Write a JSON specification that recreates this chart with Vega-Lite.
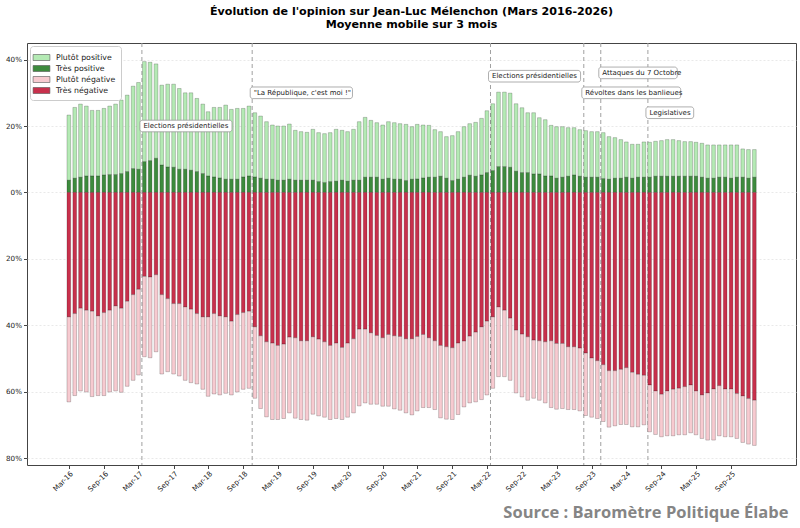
{
  "$schema": "https://vega.github.io/schema/vega-lite/v6.json",
  "width": 769,
  "height": 422,
  "autosize": {"type": "none"},
  "padding": {"left": 27, "top": 43, "right": 4, "bottom": 63},
  "background": "white",
  "config": {
    "font": "DejaVu Sans",
    "view": {"stroke": "#444", "strokeWidth": 1}
  },
  "title": {
    "text": ["Évolution de l'opinion sur Jean-Luc Mélenchon (Mars 2016-2026)", "Moyenne mobile sur 3 mois"],
    "fontSize": 11.1,
    "fontWeight": "bold",
    "color": "black",
    "anchor": "middle",
    "lineHeight": 13,
    "offset": 12
  },
  "datasets": {
    "op": [
      {"m":"2016-03-01","tp":3.7,"pp":19.6,"tn":37.5,"pn":25.6},
      {"m":"2016-04-01","tp":4.3,"pp":21.3,"tn":36.5,"pn":24.7},
      {"m":"2016-05-01","tp":4.6,"pp":22.0,"tn":34.9,"pn":24.9},
      {"m":"2016-06-01","tp":5.0,"pp":21.0,"tn":35.5,"pn":24.6},
      {"m":"2016-07-01","tp":5.0,"pp":19.7,"tn":35.8,"pn":25.7},
      {"m":"2016-08-01","tp":5.0,"pp":19.7,"tn":37.2,"pn":24.0},
      {"m":"2016-09-01","tp":5.3,"pp":20.0,"tn":36.2,"pn":25.0},
      {"m":"2016-10-01","tp":5.4,"pp":20.6,"tn":35.5,"pn":24.6},
      {"m":"2016-11-01","tp":5.4,"pp":21.2,"tn":34.2,"pn":25.6},
      {"m":"2016-12-01","tp":5.7,"pp":22.1,"tn":34.9,"pn":25.3},
      {"m":"2017-01-01","tp":6.3,"pp":23.0,"tn":32.8,"pn":25.6},
      {"m":"2017-02-01","tp":7.2,"pp":24.8,"tn":30.8,"pn":25.8},
      {"m":"2017-03-01","tp":7.0,"pp":26.1,"tn":29.2,"pn":25.8},
      {"m":"2017-04-01","tp":9.3,"pp":30.1,"tn":25.3,"pn":24.2},
      {"m":"2017-05-01","tp":9.6,"pp":29.6,"tn":25.5,"pn":24.3},
      {"m":"2017-06-01","tp":10.3,"pp":28.4,"tn":24.8,"pn":23.2},
      {"m":"2017-07-01","tp":8.3,"pp":24.0,"tn":30.8,"pn":23.9},
      {"m":"2017-08-01","tp":7.7,"pp":24.9,"tn":32.0,"pn":22.0},
      {"m":"2017-09-01","tp":7.6,"pp":25.0,"tn":33.5,"pn":21.2},
      {"m":"2017-10-01","tp":7.0,"pp":24.3,"tn":33.5,"pn":21.8},
      {"m":"2017-11-01","tp":7.0,"pp":23.0,"tn":34.5,"pn":22.1},
      {"m":"2017-12-01","tp":6.7,"pp":23.3,"tn":35.2,"pn":22.1},
      {"m":"2018-01-01","tp":6.3,"pp":22.0,"tn":36.5,"pn":21.2},
      {"m":"2018-02-01","tp":5.7,"pp":20.9,"tn":37.5,"pn":21.8},
      {"m":"2018-03-01","tp":5.0,"pp":19.3,"tn":37.5,"pn":23.9},
      {"m":"2018-04-01","tp":4.7,"pp":20.9,"tn":36.5,"pn":24.2},
      {"m":"2018-05-01","tp":4.4,"pp":21.2,"tn":37.2,"pn":23.8},
      {"m":"2018-06-01","tp":4.0,"pp":22.3,"tn":37.5,"pn":23.0},
      {"m":"2018-07-01","tp":4.0,"pp":21.0,"tn":38.8,"pn":22.2},
      {"m":"2018-08-01","tp":4.0,"pp":21.3,"tn":36.8,"pn":23.3},
      {"m":"2018-09-01","tp":4.7,"pp":20.6,"tn":36.2,"pn":23.1},
      {"m":"2018-10-01","tp":5.0,"pp":21.0,"tn":35.8,"pn":23.2},
      {"m":"2018-11-01","tp":4.7,"pp":19.3,"tn":40.5,"pn":21.5},
      {"m":"2018-12-01","tp":4.3,"pp":18.7,"tn":43.2,"pn":21.9},
      {"m":"2019-01-01","tp":4.0,"pp":17.3,"tn":45.0,"pn":22.6},
      {"m":"2019-02-01","tp":4.0,"pp":16.3,"tn":45.4,"pn":23.0},
      {"m":"2019-03-01","tp":3.7,"pp":16.3,"tn":46.1,"pn":22.3},
      {"m":"2019-04-01","tp":3.7,"pp":16.3,"tn":45.7,"pn":22.4},
      {"m":"2019-05-01","tp":4.0,"pp":16.6,"tn":43.6,"pn":22.8},
      {"m":"2019-06-01","tp":3.7,"pp":15.0,"tn":43.8,"pn":24.2},
      {"m":"2019-07-01","tp":3.7,"pp":14.6,"tn":44.7,"pn":23.7},
      {"m":"2019-08-01","tp":3.7,"pp":14.4,"tn":44.7,"pn":23.9},
      {"m":"2019-09-01","tp":3.7,"pp":15.3,"tn":43.5,"pn":23.3},
      {"m":"2019-10-01","tp":3.3,"pp":14.7,"tn":44.2,"pn":23.1},
      {"m":"2019-11-01","tp":3.0,"pp":14.7,"tn":45.0,"pn":22.7},
      {"m":"2019-12-01","tp":3.3,"pp":14.7,"tn":46.1,"pn":22.3},
      {"m":"2020-01-01","tp":3.4,"pp":15.6,"tn":45.4,"pn":22.7},
      {"m":"2020-02-01","tp":3.7,"pp":15.0,"tn":46.7,"pn":21.7},
      {"m":"2020-03-01","tp":3.4,"pp":14.9,"tn":45.4,"pn":22.3},
      {"m":"2020-04-01","tp":3.7,"pp":15.3,"tn":44.1,"pn":22.3},
      {"m":"2020-05-01","tp":3.7,"pp":17.6,"tn":41.2,"pn":23.1},
      {"m":"2020-06-01","tp":4.6,"pp":18.0,"tn":41.2,"pn":22.2},
      {"m":"2020-07-01","tp":4.6,"pp":17.1,"tn":42.3,"pn":21.5},
      {"m":"2020-08-01","tp":4.6,"pp":16.4,"tn":43.1,"pn":20.7},
      {"m":"2020-09-01","tp":4.0,"pp":16.3,"tn":43.8,"pn":20.6},
      {"m":"2020-10-01","tp":4.3,"pp":17.0,"tn":42.8,"pn":21.6},
      {"m":"2020-11-01","tp":4.0,"pp":17.0,"tn":43.2,"pn":22.0},
      {"m":"2020-12-01","tp":4.0,"pp":16.7,"tn":43.4,"pn":22.2},
      {"m":"2021-01-01","tp":3.6,"pp":16.9,"tn":44.1,"pn":22.3},
      {"m":"2021-02-01","tp":4.0,"pp":15.8,"tn":44.1,"pn":22.9},
      {"m":"2021-03-01","tp":4.1,"pp":16.4,"tn":43.4,"pn":22.4},
      {"m":"2021-04-01","tp":4.4,"pp":15.9,"tn":42.8,"pn":22.0},
      {"m":"2021-05-01","tp":4.6,"pp":15.6,"tn":43.8,"pn":21.0},
      {"m":"2021-06-01","tp":4.6,"pp":14.3,"tn":44.7,"pn":20.7},
      {"m":"2021-07-01","tp":4.9,"pp":13.4,"tn":46.1,"pn":21.8},
      {"m":"2021-08-01","tp":4.3,"pp":12.5,"tn":46.5,"pn":21.8},
      {"m":"2021-09-01","tp":3.6,"pp":13.5,"tn":46.8,"pn":21.6},
      {"m":"2021-10-01","tp":4.0,"pp":14.3,"tn":45.4,"pn":21.5},
      {"m":"2021-11-01","tp":4.6,"pp":15.2,"tn":44.8,"pn":19.8},
      {"m":"2021-12-01","tp":5.2,"pp":15.5,"tn":43.3,"pn":20.1},
      {"m":"2022-01-01","tp":4.9,"pp":16.2,"tn":42.1,"pn":21.0},
      {"m":"2022-02-01","tp":5.3,"pp":17.0,"tn":40.5,"pn":21.9},
      {"m":"2022-03-01","tp":6.0,"pp":18.6,"tn":38.8,"pn":22.2},
      {"m":"2022-04-01","tp":6.6,"pp":20.1,"tn":37.5,"pn":21.5},
      {"m":"2022-05-01","tp":7.8,"pp":22.4,"tn":34.5,"pn":21.0},
      {"m":"2022-06-01","tp":7.8,"pp":22.4,"tn":35.5,"pn":20.0},
      {"m":"2022-07-01","tp":7.6,"pp":22.3,"tn":37.9,"pn":18.7},
      {"m":"2022-08-01","tp":6.4,"pp":20.3,"tn":41.5,"pn":18.9},
      {"m":"2022-09-01","tp":6.0,"pp":19.5,"tn":42.7,"pn":18.9},
      {"m":"2022-10-01","tp":6.0,"pp":18.0,"tn":43.5,"pn":19.1},
      {"m":"2022-11-01","tp":5.6,"pp":18.4,"tn":44.5,"pn":17.5},
      {"m":"2022-12-01","tp":5.6,"pp":16.9,"tn":44.7,"pn":17.9},
      {"m":"2023-01-01","tp":5.0,"pp":16.9,"tn":45.0,"pn":18.4},
      {"m":"2023-02-01","tp":5.0,"pp":15.2,"tn":44.7,"pn":20.1},
      {"m":"2023-03-01","tp":4.3,"pp":15.5,"tn":45.5,"pn":19.8},
      {"m":"2023-04-01","tp":4.6,"pp":15.2,"tn":45.5,"pn":19.6},
      {"m":"2023-05-01","tp":4.9,"pp":14.6,"tn":46.5,"pn":18.9},
      {"m":"2023-06-01","tp":5.3,"pp":14.2,"tn":46.5,"pn":18.9},
      {"m":"2023-07-01","tp":4.9,"pp":14.0,"tn":46.9,"pn":18.9},
      {"m":"2023-08-01","tp":4.6,"pp":14.0,"tn":48.4,"pn":18.8},
      {"m":"2023-09-01","tp":4.6,"pp":13.7,"tn":49.9,"pn":17.8},
      {"m":"2023-10-01","tp":4.6,"pp":13.7,"tn":50.7,"pn":17.4},
      {"m":"2023-11-01","tp":4.2,"pp":13.8,"tn":51.9,"pn":17.1},
      {"m":"2023-12-01","tp":4.0,"pp":12.8,"tn":53.7,"pn":17.0},
      {"m":"2024-01-01","tp":4.3,"pp":12.2,"tn":53.7,"pn":16.6},
      {"m":"2024-02-01","tp":4.3,"pp":11.6,"tn":53.3,"pn":16.6},
      {"m":"2024-03-01","tp":4.6,"pp":10.6,"tn":52.8,"pn":17.1},
      {"m":"2024-04-01","tp":4.3,"pp":10.2,"tn":54.2,"pn":16.4},
      {"m":"2024-05-01","tp":4.6,"pp":9.9,"tn":54.8,"pn":15.8},
      {"m":"2024-06-01","tp":4.6,"pp":10.6,"tn":55.1,"pn":14.9},
      {"m":"2024-07-01","tp":4.6,"pp":10.5,"tn":58.0,"pn":14.1},
      {"m":"2024-08-01","tp":4.9,"pp":10.5,"tn":59.8,"pn":13.1},
      {"m":"2024-09-01","tp":4.9,"pp":10.7,"tn":60.8,"pn":12.8},
      {"m":"2024-10-01","tp":4.9,"pp":11.0,"tn":59.8,"pn":13.5},
      {"m":"2024-11-01","tp":4.9,"pp":11.0,"tn":59.3,"pn":14.0},
      {"m":"2024-12-01","tp":4.9,"pp":10.7,"tn":59.0,"pn":14.0},
      {"m":"2025-01-01","tp":4.9,"pp":10.4,"tn":58.5,"pn":14.5},
      {"m":"2025-02-01","tp":4.9,"pp":10.4,"tn":58.0,"pn":14.4},
      {"m":"2025-03-01","tp":4.9,"pp":10.2,"tn":59.8,"pn":13.2},
      {"m":"2025-04-01","tp":4.6,"pp":10.2,"tn":61.0,"pn":13.1},
      {"m":"2025-05-01","tp":4.3,"pp":10.0,"tn":60.4,"pn":14.2},
      {"m":"2025-06-01","tp":4.3,"pp":10.0,"tn":59.2,"pn":15.4},
      {"m":"2025-07-01","tp":4.6,"pp":9.7,"tn":58.2,"pn":15.1},
      {"m":"2025-08-01","tp":4.6,"pp":9.7,"tn":59.2,"pn":14.4},
      {"m":"2025-09-01","tp":4.3,"pp":10.0,"tn":59.2,"pn":14.4},
      {"m":"2025-10-01","tp":4.6,"pp":9.7,"tn":60.6,"pn":13.5},
      {"m":"2025-11-01","tp":4.6,"pp":8.5,"tn":61.3,"pn":14.0},
      {"m":"2025-12-01","tp":4.3,"pp":8.6,"tn":62.1,"pn":13.7},
      {"m":"2026-01-01","tp":4.6,"pp":8.3,"tn":62.6,"pn":13.6}
    ],
    "ev": [
      {"d":"2017-03-19","label":"Elections présidentielles","ly":20},
      {"d":"2018-10-18","label":"\"La République, c'est moi !\"","ly":30},
      {"d":"2022-03-20","label":"Elections présidentielles","ly":35},
      {"d":"2023-07-22","label":"Révoltes dans les banlieues","ly":30},
      {"d":"2023-10-19","label":"Attaques du 7 Octobre","ly":36},
      {"d":"2024-06-22","label":"Legislatives","ly":24}
    ]
  },
  "layer": [
    {
      "data": {"name": "ev"},
      "mark": {"type": "rule", "color": "#a0a0a0", "strokeWidth": 1, "strokeDash": [4, 3]},
      "encoding": {
        "x": {"field": "d", "type": "temporal"}
      }
    },
    {
      "data": {"name": "op"},
      "transform": [
        {"fold": ["tp", "pp", "tn", "pn"], "as": ["k", "v"]},
        {"calculate": "datum.k == 'tn' || datum.k == 'pn' ? -datum.v : datum.v", "as": "sv"},
        {"calculate": "datum.k == 'tp' || datum.k == 'tn' ? 0 : 1", "as": "ord"}
      ],
      "mark": {"type": "bar", "width": 3.7, "stroke": "#000", "strokeWidth": 0.5, "strokeOpacity": 0.4},
      "encoding": {
        "x": {
          "field": "m",
          "type": "temporal",
          "scale": {
            "type": "utc",
            "domain": [
              {"year": 2015, "month": 8, "date": 21, "utc": true},
              {"year": 2026, "month": 7, "date": 12, "utc": true}
            ]
          },
          "axis": {
            "title": "Source : Baromètre Politique Élabe",
            "titleFont": "Open Sans",
            "titleFontSize": 16.5,
            "titleFontWeight": "bold",
            "titleColor": "#858585",
            "titleAlign": "right",
            "titleBaseline": "middle",
            "titleX": 761,
            "titleY": 47,
            "values": [
              {"year": 2016, "month": 3, "date": 1, "utc": true},
              {"year": 2016, "month": 9, "date": 1, "utc": true},
              {"year": 2017, "month": 3, "date": 1, "utc": true},
              {"year": 2017, "month": 9, "date": 1, "utc": true},
              {"year": 2018, "month": 3, "date": 1, "utc": true},
              {"year": 2018, "month": 9, "date": 1, "utc": true},
              {"year": 2019, "month": 3, "date": 1, "utc": true},
              {"year": 2019, "month": 9, "date": 1, "utc": true},
              {"year": 2020, "month": 3, "date": 1, "utc": true},
              {"year": 2020, "month": 9, "date": 1, "utc": true},
              {"year": 2021, "month": 3, "date": 1, "utc": true},
              {"year": 2021, "month": 9, "date": 1, "utc": true},
              {"year": 2022, "month": 3, "date": 1, "utc": true},
              {"year": 2022, "month": 9, "date": 1, "utc": true},
              {"year": 2023, "month": 3, "date": 1, "utc": true},
              {"year": 2023, "month": 9, "date": 1, "utc": true},
              {"year": 2024, "month": 3, "date": 1, "utc": true},
              {"year": 2024, "month": 9, "date": 1, "utc": true},
              {"year": 2025, "month": 3, "date": 1, "utc": true},
              {"year": 2025, "month": 9, "date": 1, "utc": true}
            ],
            "format": "%b-%y",
            "labelAngle": -45,
            "labelAlign": "right",
            "labelBaseline": "top",
            "labelFontSize": 7.2,
            "labelColor": "#222",
            "labelPadding": 1,
            "labelOverlap": false,
            "labelFlush": false,
            "tickSize": 3.5,
            "tickColor": "#444",
            "domain": false,
            "grid": false
          }
        },
        "y": {
          "field": "sv",
          "type": "quantitative",
          "stack": "zero",
          "scale": {"domain": [-82.1, 45], "nice": false, "zero": false},
          "axis": {
            "title": null,
            "values": [-80, -60, -40, -20, 0, 20, 40],
            "labelExpr": "abs(datum.value) + '%'",
            "labelFontSize": 7.2,
            "labelColor": "#222",
            "labelPadding": 2,
            "tickSize": 3.5,
            "tickColor": "#444",
            "domain": false,
            "grid": true,
            "gridColor": "#e3e3e3",
            "gridDash": [2, 2],
            "gridWidth": 0.8
          }
        },
        "order": {"field": "ord", "type": "quantitative"},
        "color": {
          "field": "k",
          "type": "nominal",
          "scale": {
            "domain": ["pp", "tp", "pn", "tn"],
            "range": ["#b4eab4", "#3d8b3d", "#f7cad0", "#c8304c"]
          },
          "legend": {
            "title": null,
            "orient": "top-left",
            "offset": 3,
            "padding": 5,
            "fillColor": "white",
            "strokeColor": "#cccccc",
            "cornerRadius": 3,
            "symbolType": "M-1.4,-0.5L1.4,-0.5L1.4,0.5L-1.4,0.5Z",
            "symbolSize": 144,
            "symbolStrokeColor": "#555",
            "symbolStrokeWidth": 0.6,
            "symbolOpacity": 1,
            "labelFontSize": 7.8,
            "labelColor": "#222",
            "labelOffset": 8,
            "rowPadding": 0,
            "labelExpr": "datum.label == 'pp' ? 'Plutôt positive' : datum.label == 'tp' ? 'Très positive' : datum.label == 'pn' ? 'Plutôt négative' : 'Très négative'"
          }
        }
      }
    },
    {
      "mark": {"type": "rule", "color": "black", "strokeWidth": 1.3},
      "encoding": {"y": {"datum": 0}}
    },
    {
      "data": {"name": "ev"},
      "transform": [
        {"calculate": "+toDate(datum.d) - 2 * 4.47e8", "as": "bx1"},
        {"calculate": "+toDate(datum.d) + (3.45 * length(datum.label) + 5) * 4.47e8", "as": "bx2"},
        {"calculate": "datum.ly - 1.75", "as": "by1"},
        {"calculate": "datum.ly + 1.75", "as": "by2"}
      ],
      "mark": {"type": "rect", "fill": "white", "stroke": "#999", "strokeWidth": 0.8, "cornerRadius": 2.5},
      "encoding": {
        "x": {"field": "bx1", "type": "temporal"},
        "x2": {"field": "bx2"},
        "y": {"field": "by1", "type": "quantitative"},
        "y2": {"field": "by2"}
      }
    },
    {
      "data": {"name": "ev"},
      "mark": {"type": "text", "align": "left", "baseline": "middle", "dx": 1.5, "fontSize": 7, "color": "#222"},
      "encoding": {
        "x": {"field": "d", "type": "temporal"},
        "y": {"field": "ly", "type": "quantitative"},
        "text": {"field": "label"}
      }
    }
  ]
}
